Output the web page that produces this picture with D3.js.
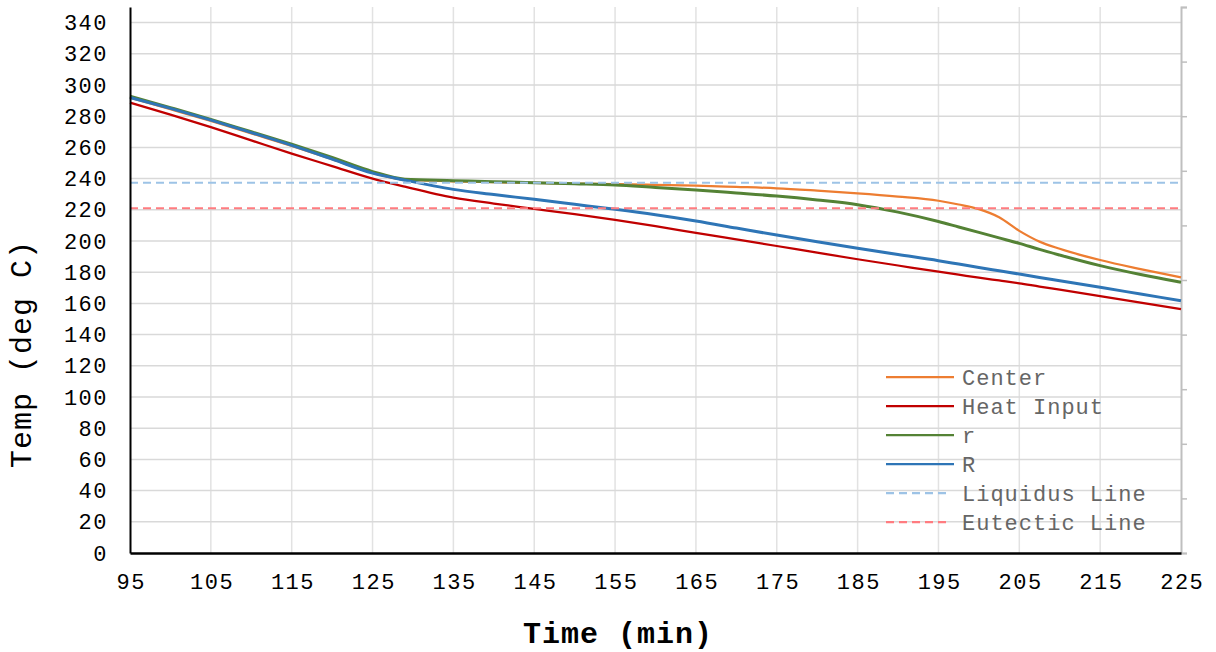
<!DOCTYPE html>
<html>
<head>
<meta charset="utf-8">
<script src="https://cdn.jsdelivr.net/npm/d3@7"></script>
<style>
  body { margin: 0; background: #fff; }
  svg text { font-family: "Liberation Mono", "Courier New", monospace; }
</style>
</head>
<body>
<div id="chart"></div>
<script>
// time axis (min)
const times = [95, 100, 105, 110, 115, 120, 125, 129, 135, 140, 145, 150, 155, 160, 165,
               170, 175, 180, 185, 190, 195, 197.5, 200, 202.5, 205, 207.5, 210, 215, 220, 225];

// temperatures (deg C)
const centerTemps = [291.8, 284.5, 277, 269, 261, 252.5, 243.8, 239.3, 238.3, 237.7, 237.2, 236.8, 236.4, 236, 235.5,
                     234.7, 233.8, 232.3, 230.6, 228.5, 225.8, 223.4, 220.4, 215.2, 206.5, 199.6, 195, 187.8, 182, 176.7];
const heatInputTemps = [288.7, 281, 273, 264.5, 256, 248, 240, 234.8, 227.8, 224, 220.6, 217.2, 213.5, 209.5, 205.2,
                        201, 196.8, 192.5, 188.3, 184.3, 180.3, 178.4, 176.5, 174.7, 172.9, 170.8, 168.8, 164.7, 160.5, 156.4];
const rTemps = [292.8, 285.5, 278, 270, 262, 253.5, 244.5, 239.6, 238.7, 238, 237.4, 236.7, 235.9, 234.3, 232.7,
                230.8, 228.8, 226.3, 223.3, 218.5, 212.5, 209, 205.5, 202, 198.5, 194.6, 191, 184.2, 178.5, 173.5];
const bigRTemps = [292, 285, 277.5, 269.5, 261.3, 252.5, 243.5, 239, 233.1, 229.8, 226.7, 223.5, 220.3, 216.8, 212.8,
                   208.3, 203.8, 199.5, 195.3, 191.3, 187.4, 185.2, 183, 180.9, 178.8, 176.6, 174.5, 170.3, 166, 161.7];
const liquidusTemp = 237.3;
const eutecticTemp = 221;

const xTicks = d3.range(95, 226, 10);
const yTicks = d3.range(0, 341, 20);

const series = [
    {name: 'Center', values: centerTemps, color: '#ED7D31', width: 2.25},
    {name: 'Heat Input', values: heatInputTemps, color: '#C00000', width: 2.25},
    {name: 'r', values: rTemps, color: '#548235', width: 3},
    {name: 'R', values: bigRTemps, color: '#2E75B6', width: 3},
    {name: 'Liquidus Line', constant: liquidusTemp, color: '#9DC3E6', width: 2, dash: '8,5'},
    {name: 'Eutectic Line', constant: eutecticTemp, color: '#FF7C80', width: 2, dash: '8,5'}
];

const W = 1216, H = 652;
const margin = {top: 7, right: 35, bottom: 99, left: 130};
const width = W - margin.left - margin.right;
const height = H - margin.top - margin.bottom;

const svg = d3.select('#chart').append('svg')
    .attr('width', W)
    .attr('height', H);

const g = svg.append('g')
    .attr('transform', `translate(${margin.left},${margin.top})`);

const x = d3.scaleLinear().domain([95, 225]).range([0, width]);
const y = d3.scaleLinear().domain([0, 350]).range([height, 0]);
// secondary axis on the right, ticks only
const y2 = d3.scaleLinear().domain([0, 10]).range([height, 0]);

// vertical grid
g.append('g')
    .selectAll('line')
    .data(xTicks.slice(1, -1))
    .enter().append('line')
    .attr('x1', d => x(d)).attr('x2', d => x(d))
    .attr('y1', 0).attr('y2', height)
    .attr('stroke', '#e2e2e2')
    .attr('stroke-width', 1.5);

// horizontal grid
g.append('g')
    .selectAll('line')
    .data(yTicks.slice(1))
    .enter().append('line')
    .attr('x1', 0).attr('x2', width)
    .attr('y1', d => y(d)).attr('y2', d => y(d))
    .attr('stroke', '#d9d9d9')
    .attr('stroke-width', 1.5);

// right axis
const rightAxis = g.append('g')
    .attr('transform', `translate(${width},0)`)
    .call(d3.axisRight(y2).ticks(10).tickSize(6).tickFormat(''));
rightAxis.select('.domain').attr('stroke', '#bfbfbf').attr('stroke-width', 2);
rightAxis.selectAll('.tick line').attr('stroke', '#bfbfbf').attr('stroke-width', 1.5);

// lines
const line = d3.line()
    .x((d, i) => x(times[i]))
    .y(d => y(d))
    .curve(d3.curveMonotoneX);

series.forEach(s => {
    const path = g.append('path')
        .attr('fill', 'none')
        .attr('stroke', s.color)
        .attr('stroke-width', s.width)
        .attr('stroke-linejoin', 'round');
    if (s.constant !== undefined) {
        path.attr('d', d3.line()([[x(95), y(s.constant)], [x(225), y(s.constant)]]))
            .attr('stroke-dasharray', s.dash);
    } else {
        path.attr('d', line(s.values));
    }
});

// left axis
const leftAxis = g.append('g')
    .call(d3.axisLeft(y).tickValues(yTicks).tickSize(0).tickPadding(22));
leftAxis.select('.domain').attr('stroke', '#000').attr('stroke-width', 2);
leftAxis.selectAll('text')
    .attr('font-size', '22px')
    .attr('fill', '#000')
    .style('letter-spacing', '1.5px')
    .style('font-family', '"Liberation Mono", monospace');

// bottom axis
const bottomAxis = g.append('g')
    .attr('transform', `translate(0,${height})`)
    .call(d3.axisBottom(x).tickValues(xTicks).tickSize(0).tickPadding(20));
bottomAxis.select('.domain').attr('stroke', '#000').attr('stroke-width', 2.5);
bottomAxis.selectAll('text')
    .attr('font-size', '22px')
    .attr('fill', '#000')
    .attr('dx', '0.75px')
    .style('letter-spacing', '1.5px')
    .style('font-family', '"Liberation Mono", monospace');

// axis titles
svg.append('text')
    .attr('transform', `translate(31,354) rotate(-90)`)
    .attr('text-anchor', 'middle')
    .attr('font-size', '30px')
    .attr('fill', '#000')
    .style('letter-spacing', '1px')
    .text('Temp (deg C)');

svg.append('text')
    .attr('x', 618)
    .attr('y', 643)
    .attr('text-anchor', 'middle')
    .attr('font-size', '30px')
    .attr('font-weight', 'bold')
    .attr('fill', '#000')
    .style('letter-spacing', '1px')
    .text('Time (min)');

// legend
const legend = svg.append('g')
    .attr('transform', 'translate(886,377)');

const items = legend.selectAll('g')
    .data(series)
    .enter().append('g')
    .attr('transform', (d, i) => `translate(0,${i * 29})`);

items.append('line')
    .attr('x1', 0)
    .attr('x2', d => d.dash ? 62 : 68)
    .attr('y1', 0).attr('y2', 0)
    .attr('stroke', d => d.color)
    .attr('stroke-width', 2.25)
    .attr('stroke-dasharray', d => d.dash || null);

items.append('text')
    .attr('x', 76)
    .attr('y', 0)
    .attr('dy', '0.35em')
    .attr('font-size', '22px')
    .attr('fill', '#666')
    .style('letter-spacing', '1px')
    .text(d => d.name);
</script>
</body>
</html>
